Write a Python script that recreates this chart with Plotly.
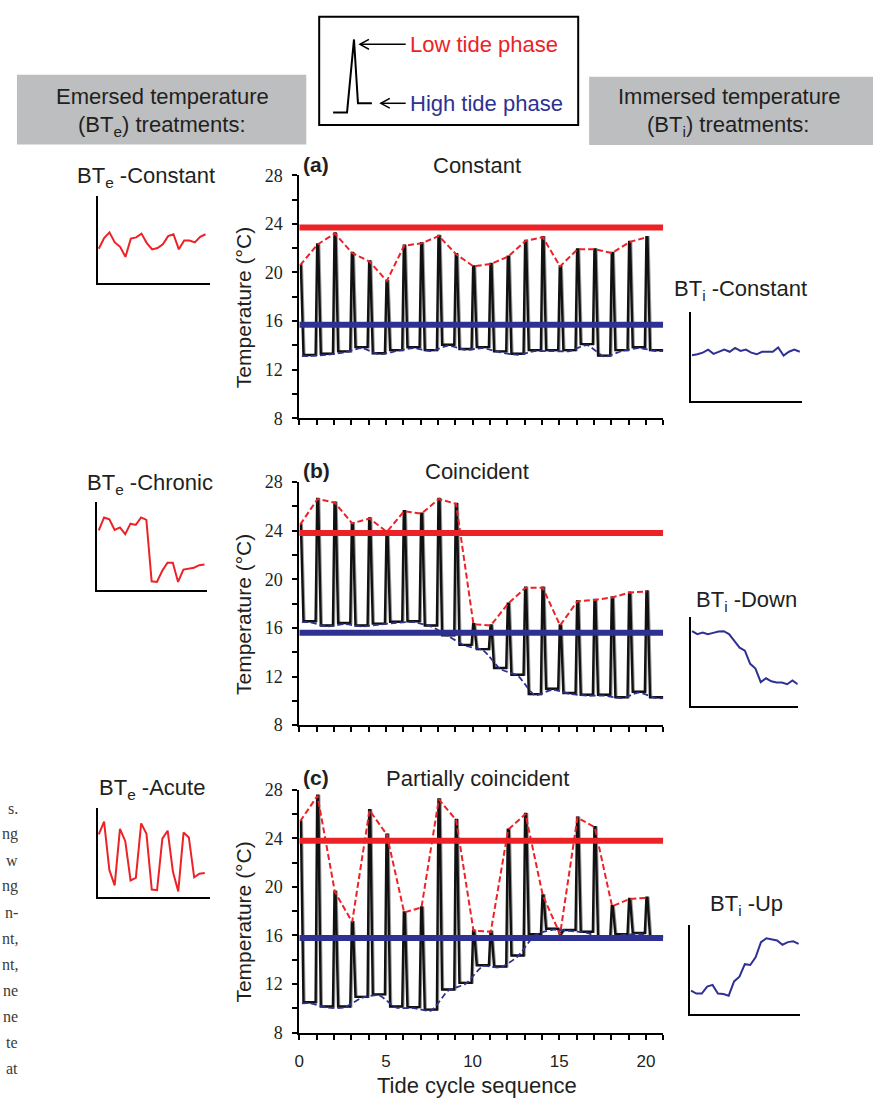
import plotly.graph_objects as go

W, H = 873, 1107

RED = "#ec2227"
BLUE = "#2e3192"
INK = "#231f20"
BOX_GREY = "#bcbec0"
SANS = "Liberation Sans"
SERIF = "Liberation Serif"

# ---- data -------------------------------------------------------------
cycles = list(range(21))

# low tide (emersed) peak temperatures per tide cycle
peaks_a = [20.6, 22.3, 23.2, 21.6, 20.9, 19.3, 22.2, 22.4, 23.0, 21.5, 20.5,
           20.7, 21.3, 22.6, 22.9, 20.5, 21.9, 21.9, 21.6, 22.5, 22.9]
peaks_b = [24.5, 26.6, 26.3, 24.6, 25.0, 23.9, 25.6, 25.4, 26.6, 26.2, 16.3,
           16.2, 18.0, 19.3, 19.3, 16.2, 18.2, 18.3, 18.5, 18.9, 19.0]
peaks_c = [25.4, 27.5, 19.6, 17.1, 26.3, 24.3, 17.9, 18.3, 27.2, 25.5, 16.4,
           16.3, 24.7, 26.0, 19.3, 16.1, 25.7, 24.9, 18.4, 19.0, 19.1]

# high tide (immersed) temperatures per tide cycle
troughs_a = [13.2, 13.3, 13.5, 13.85, 13.35, 13.6, 13.85, 13.6, 14.05, 13.7, 13.85,
             13.5, 13.3, 13.6, 13.6, 13.6, 14.1, 13.15, 13.6, 13.85, 13.6]
troughs_b = [16.55, 16.2, 16.4, 16.2, 16.35, 16.5, 16.55, 16.2, 15.4, 14.6, 14.25,
             12.7, 12.15, 10.55, 11.0, 10.65, 10.5, 10.5, 10.3, 10.75, 10.3]
troughs_c = [10.5, 10.15, 10.15, 10.95, 11.15, 10.15, 10.1, 9.9, 11.55, 12.1, 13.55,
             13.45, 14.35, 16.1, 16.55, 16.45, 16.3, 15.8, 16.1, 16.2, 15.9]

emersed_means = [23.7, 23.8, 23.8]
immersed_means = [15.7, 15.6, 15.8]

panel_tags = ["(a)", "(b)", "(c)"]
panel_titles = ["Constant", "Coincident", "Partially coincident"]
emersed_names = ["Constant", "Chronic", "Acute"]
immersed_names = ["Constant", "Down", "Up"]

caption_bits = ["s.", "ng", "w", "ng", "n-", "nt,", "nt,", "ne", "ne", "te", "at"]


def fx(p):
    return p / W


def fy(p):
    return 1 - p / H


def tide_series(peaks, troughs):
    """Spike at every cycle (low tide) followed by a flat high tide phase."""
    xs, ys = [], []
    for i, (p, t) in enumerate(zip(peaks, troughs)):
        if i > 0:
            xs.append(i - 0.06)
            ys.append(troughs[i - 1])
        xs += [i + 0.03, i + 0.09, i + 0.24]
        ys += [p, p, t]
    xs.append(21)
    ys.append(troughs[-1])
    return xs, ys


fig = go.Figure()
layout = {}

# main panels: pixel extents (top, bottom) of the 28..8 range
panel_px = [(168.3, 415.7), (480.7, 728.3), (794.0, 1041.5)]
main_x_px = (296.0, 662.0)

peaks_all = [peaks_a, peaks_b, peaks_c]
troughs_all = [troughs_a, troughs_b, troughs_c]

for k in range(3):
    n = "" if k == 0 else str(k + 1)
    xa, ya = "x" + n, "y" + n
    peaks, troughs = peaks_all[k], troughs_all[k]
    tx, ty = tide_series(peaks, troughs)

    # grey shadow under the measured trace
    fig.add_trace(go.Scatter(x=[v + 0.07 for v in tx], y=ty, mode="lines",
                             line=dict(color="#9a9a9a", width=2),
                             xaxis=xa, yaxis=ya, showlegend=False, hoverinfo="skip"))
    fig.add_trace(go.Scatter(x=tx, y=ty, mode="lines",
                             line=dict(color="#111111", width=2.4),
                             xaxis=xa, yaxis=ya, showlegend=False))
    # treatment means
    fig.add_trace(go.Scatter(x=[0, 21], y=[emersed_means[k]] * 2, mode="lines",
                             line=dict(color=RED, width=6),
                             xaxis=xa, yaxis=ya, showlegend=False))
    fig.add_trace(go.Scatter(x=[0, 21], y=[immersed_means[k]] * 2, mode="lines",
                             line=dict(color=BLUE, width=6),
                             xaxis=xa, yaxis=ya, showlegend=False))
    # low tide target envelope
    fig.add_trace(go.Scatter(x=[c + 0.05 for c in cycles], y=peaks, mode="lines",
                             line=dict(color=RED, width=2, dash="6px,3px"),
                             xaxis=xa, yaxis=ya, showlegend=False))
    # high tide target envelope
    bx = [0.15] + [c + 0.6 for c in cycles] + [21]
    by = [troughs[0]] + troughs + [troughs[-1]]
    fig.add_trace(go.Scatter(x=bx, y=[v - 0.08 for v in by], mode="lines",
                             line=dict(color=BLUE, width=1.8, dash="6px,3px",
                                       shape="spline", smoothing=0.6),
                             xaxis=xa, yaxis=ya, showlegend=False))

    top, bot = panel_px[k]
    layout["xaxis" + n] = dict(
        domain=[fx(main_x_px[0]), fx(main_x_px[1])], anchor=ya, range=[0, 21],
        tick0=0, dtick=5, showticklabels=(k == 2),
        ticks="outside", ticklen=5, tickwidth=1.5, tickcolor="black",
        minor=dict(tick0=0, dtick=1, ticks="outside", ticklen=5, tickwidth=1.5,
                   tickcolor="black", showgrid=False),
        showline=True, linewidth=2, linecolor="black", showgrid=False, zeroline=False,
        tickfont=dict(family=SANS, size=17, color=INK), ticklabelstandoff=7,
    )
    layout["yaxis" + n] = dict(
        domain=[fy(bot), fy(top)], anchor=xa, range=[8, 28],
        tick0=8, dtick=4,
        ticks="outside", ticklen=5, tickwidth=1.5, tickcolor="black",
        minor=dict(tick0=8, dtick=2, ticks="outside", ticklen=5, tickwidth=1.5,
                   tickcolor="black", showgrid=False),
        showline=True, linewidth=2, linecolor="black", showgrid=False, zeroline=False,
        tickfont=dict(family=SERIF, size=18, color=INK), ticklabelstandoff=6,
    )

# inset panels: (x0, x1, y_top, y_bottom) in pixels, x range, y range
emersed_insets = [
    ((93.3, 205.7, 189.3, 277.7), (-0.19, 20.75), (15.2, 29.0)),
    ((92.3, 202.7, 501.0, 590.7), (-0.38, 20.38), (14.9, 29.1)),
    ((93.3, 205.7, 812.7, 903.3), (-0.19, 20.9), (15.2, 29.7)),
]
immersed_insets = [
    ((690.0, 801.7, 307.3, 398.3), (-0.18, 20.44), (7.8, 18.3)),
    ((690.0, 797.3, 618.3, 708.3), (-0.19, 20.0), (7.8, 18.2)),
    ((689.0, 799.3, 931.7, 1022.3), (-0.18, 20.2), (7.8, 18.1)),
]

inset_specs = []
for k in range(3):
    inset_specs.append((emersed_insets[k], peaks_all[k], RED))
for k in range(3):
    inset_specs.append((immersed_insets[k], troughs_all[k], BLUE))

for idx, ((box, xr, yr), series, col) in enumerate(inset_specs, start=4):
    n = str(idx)
    x0, x1, yt, yb = box
    fig.add_trace(go.Scatter(x=cycles, y=series, mode="lines",
                             line=dict(color=col, width=2),
                             xaxis="x" + n, yaxis="y" + n, showlegend=False))
    layout["xaxis" + n] = dict(domain=[fx(x0), fx(x1)], anchor="y" + n, range=list(xr),
                               showline=True, linewidth=1.5, linecolor="black",
                               showgrid=False, zeroline=False, showticklabels=False, ticks="")
    layout["yaxis" + n] = dict(domain=[fy(yb), fy(yt)], anchor="x" + n, range=list(yr),
                               showline=True, linewidth=1.5, linecolor="black",
                               showgrid=False, zeroline=False, showticklabels=False, ticks="")

annotations = []


def text(x, y, s, size=22, color=INK, family=SANS, xanchor="center", **kw):
    annotations.append(dict(x=fx(x), y=fy(y), xref="paper", yref="paper", text=s,
                            showarrow=False, xanchor=xanchor, yanchor="middle",
                            font=dict(family=family, size=size, color=color), **kw))


# panel headings and axis titles
tag_y = [157, 469, 782]
for k in range(3):
    top, bot = panel_px[k]
    text(298, tag_y[k], "<b>%s</b>" % panel_tags[k], size=21, xanchor="left")
    text(475, tag_y[k] + 1, panel_titles[k], size=22)
    text(240, (top + bot) / 2 + 11, "Temperature (°C)", size=21, textangle=-90)

text(475, 1095, "Tide cycle sequence", size=22)

# inset labels
emersed_label_pos = [(142, 169.7), (146, 482.5), (147.5, 793)]
immersed_label_pos = [(740, 285.5), (746, 601.5), (746, 911)]
for k in range(3):
    x, y = emersed_label_pos[k]
    text(x, y, "BT<sub>e</sub> -%s" % emersed_names[k], size=22)
    x, y = immersed_label_pos[k]
    text(x, y, "BT<sub>i</sub> -%s" % immersed_names[k], size=22)

# header boxes
text(158, 88, "Emersed temperature", size=22)
text(157.5, 118, "(BT<sub>e</sub>) treatments:", size=22)
text(728.5, 88, "Immersed temperature", size=22)
text(727, 118, "(BT<sub>i</sub>) treatments:", size=22)
text(405.5, 35, "Low tide phase", size=22, color=RED, xanchor="left")
text(405.5, 95, "High tide phase", size=22, color=BLUE, xanchor="left")

# fragment of the neighbouring caption column
for j, bit in enumerate(caption_bits):
    text(15.5, 813 + j * 26.5, bit, size=16, family=SERIF, xanchor="right", color="#3a3a3a")

shapes = [
    dict(type="rect", xref="paper", yref="paper", x0=fx(12), x1=fx(303), y0=fy(137), y1=fy(66),
         fillcolor=BOX_GREY, line=dict(width=0), layer="below"),
    dict(type="rect", xref="paper", yref="paper", x0=fx(587.5), x1=fx(873), y0=fy(137.5), y1=fy(68),
         fillcolor=BOX_GREY, line=dict(width=0), layer="below"),
    dict(type="rect", xref="paper", yref="paper", x0=fx(316), x1=fx(576.5), y0=fy(117), y1=fy(7),
         line=dict(color="black", width=2)),
]


def poly(points, width=2):
    path = "M " + " L ".join("%.5f %.5f" % (fx(a), fy(b)) for a, b in points)
    shapes.append(dict(type="path", xref="paper", yref="paper", path=path,
                       line=dict(color="black", width=width)))


# legend glyph: flat high tide, spike for low tide
poly([(330, 104.5), (344, 104.5), (351, 30), (355, 95), (369, 95)])
# arrows pointing at the glyph
poly([(403, 35), (357, 35)], width=1.5)
poly([(366, 30), (357, 35), (366, 40)], width=1.5)
poly([(403, 95), (378, 95)], width=1.5)
poly([(387, 90), (378, 95), (387, 100)], width=1.5)

fig.update_layout(
    width=W, height=H, margin=dict(l=0, r=0, t=0, b=0),
    paper_bgcolor="white", plot_bgcolor="rgba(0,0,0,0)",
    showlegend=False, annotations=annotations, shapes=shapes,
    font=dict(family=SANS, color=INK),
    **layout,
)

fig.write_html("out.html")
